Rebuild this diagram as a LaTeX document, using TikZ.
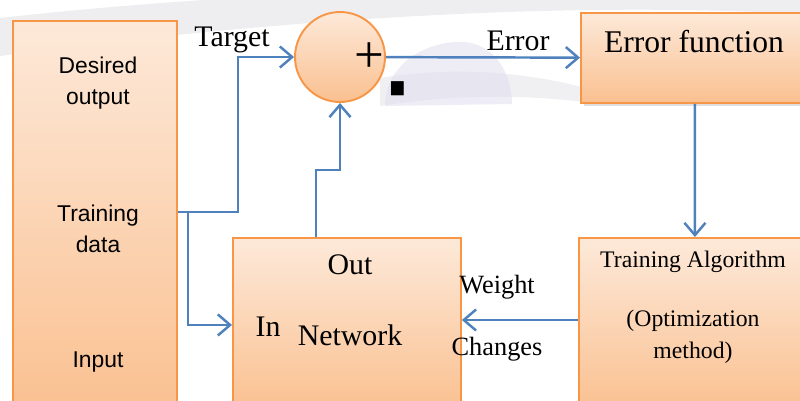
\documentclass[tikz,border=0pt]{standalone}
\usepackage{fontspec}
\setmainfont{Liberation Serif}
\newfontfamily\sansfont{Liberation Sans}
\usetikzlibrary{arrows.meta,positioning,calc,shadows}
\definecolor{boxedge}{RGB}{247,150,70}
\definecolor{boxtop}{RGB}{253,233,217}
\definecolor{boxbot}{RGB}{250,192,144}
\definecolor{flowblue}{RGB}{79,129,189}
\definecolor{markgray}{RGB}{226,226,232}
\definecolor{marklilac}{RGB}{218,216,236}

\begin{document}
\begin{tikzpicture}[x=0.02cm, y=-0.02cm,
    block/.style={draw=boxedge, line width=1.1pt, top color=boxtop,
                  bottom color=boxbot, anchor=north west, inner sep=0pt},
    flow/.style={draw=flowblue, line width=1.4pt,
                 -{Straight Barb[length=7pt,width=12pt,line width=1.4pt]}},
    lbl/.style={font=\fontsize{17}{20}\selectfont, inner sep=1pt},
    small/.style={font=\fontsize{15}{18}\selectfont, inner sep=1pt},
    sans/.style={font=\sansfont\fontsize{13}{18}\selectfont, align=center}]
    \useasboundingbox (0,0) rectangle (800,400);

    % faint watermark behind the top row
    \fill[markgray, opacity=0.6] (0,18) .. controls (250,-10) and (550,-20) .. (800,0)
        -- (800,14) .. controls (550,0) and (250,22) .. (0,56) -- cycle;
    \fill[markgray, opacity=0.5] (380,78) .. controls (480,62) and (560,80) .. (600,92)
        -- (600,104) .. controls (540,96) and (470,92) .. (380,106) -- cycle;
    \fill[marklilac, opacity=0.45] (385,106) .. controls (385,65) and (425,40) .. (465,42)
        .. controls (500,46) and (512,80) .. (512,104) -- cycle;

    % blocks
    \node[block, minimum width=3.28cm, minimum height=7.9cm] (inp) at (12,20) {};
    \node[block, minimum width=4.56cm, minimum height=1.8cm,
          drop shadow={shadow xshift=1.5pt, shadow yshift=-1.5pt, opacity=0.25}] (errf) at (580,12) {};
    \node[block, minimum width=4.56cm, minimum height=3.48cm] (net) at (232,237) {};
    \node[block, minimum width=4.64cm, minimum height=3.48cm] (alg) at (578,237) {};
    \node[circle, draw=boxedge, line width=1.1pt, top color=boxtop,
          bottom color=boxbot, minimum size=1.8cm] (sum) at (340,57) {};

    % texts
    \node[sans] (desired) at (98,83) {Desired\\output};
    \node[sans] (tdata) at (98,229) {Training\\data};
    \node[sans] (input) at (98,362) {Input};
    \node[font=\fontsize{30}{30}\selectfont] (plus) at (369,58) {+};
    \node[font=\sansfont\bfseries\fontsize{26}{26}\selectfont, inner sep=0pt] (minus) at (398,101) {\scalebox{1.1}[2.6]{-}};
    \node[lbl] (target) at (232,40) {Target};
    \node[lbl] (err) at (518,41) {Error};
    \node[font=\fontsize{18}{20}\selectfont] (errtxt) at (694,42) {Error function};
    \node[lbl] (out) at (350,265) {Out};
    \node[lbl] (in) at (268,327) {In};
    \node[lbl] (nettxt) at (350,335) {Network};
    \node[small] (weight) at (497,287) {Weight};
    \node[small] (changes) at (497,349) {Changes};
    \node[font=\fontsize{13.5}{18}\selectfont] (algtxt) at (693,262) {Training Algorithm};
    \node[font=\fontsize{13.5}{18}\selectfont, align=center] (opt) at (693,337) {(Optimization\\method)};

    % connectors
    \coordinate (tap) at (inp.east |- 0,212);
    \draw[flow] (tap) -- ++(60,0) |- (sum.west);
    \draw[flow] (tap) ++(10,0) |- (net.west);
    \draw[flow] (net.north -| 316,0) -- ++(0,-67) -| (sum.south);
    \draw[flow] (sum) -- (errf);
    \draw[flow] (errf) -- (alg);
    \draw[flow] (alg.west |- 0,320) -- (net.east |- 0,320);
\end{tikzpicture}
\end{document}
